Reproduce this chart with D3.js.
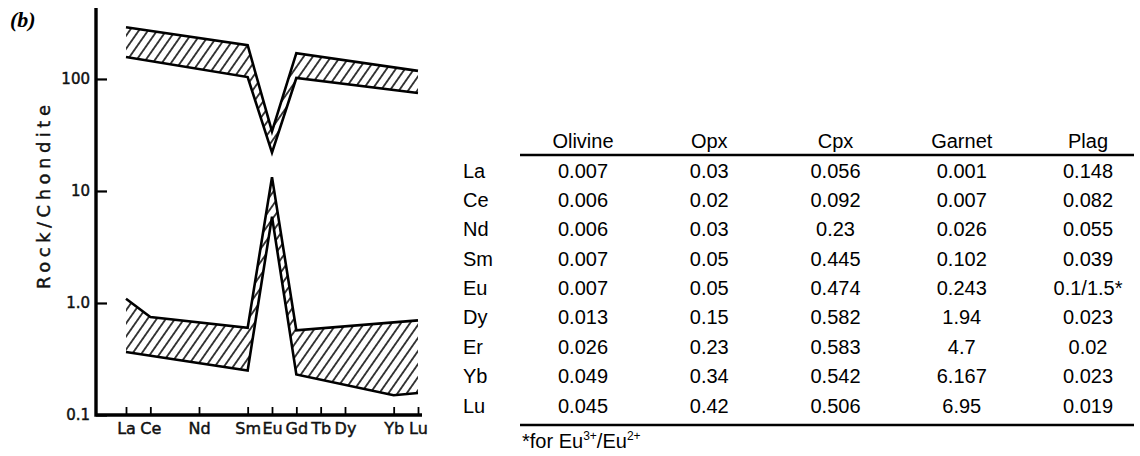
<!DOCTYPE html>
<html>
<head>
<meta charset="utf-8">
<script src="https://cdn.jsdelivr.net/npm/d3@7"></script>
<style>
  body { margin: 0; background: #fff; }
  svg { display: block; }
  .hand { font-family: "DejaVu Sans", sans-serif; fill: #111; stroke: #111; stroke-width: 0.45px; }
  .tbl { font-family: "Liberation Sans", Arial, sans-serif; font-size: 20px; fill: #000; }
</style>
</head>
<body>
<svg id="fig" width="1140" height="456"></svg>
<script>
// REE pattern (chondrite normalised) - element order along the axis
const ree = ["La", "Ce", "Nd", "Sm", "Eu", "Gd", "Tb", "Dy", "Yb", "Lu"];
// slot on the drawn axis (Ho-Tm squeezed into one gap on the original)
const reeSlot = [0, 1, 3, 5, 6, 7, 8, 9, 11, 12];

// upper field (with negative Eu anomaly)
const hiTopEl = ["La", "Sm", "Eu", "Gd", "Lu"];
const hiTop = [290, 200, 34, 170, 118];
const hiBotEl = ["La", "Sm", "Eu", "Gd", "Lu"];
const hiBot = [157, 104, 22, 102, 75];

// lower field (with positive Eu anomaly)
const loTopEl = ["La", "Ce", "Sm", "Eu", "Gd", "Lu"];
const loTop = [1.09, 0.75, 0.6, 13.3, 0.57, 0.7];
const loBotEl = ["La", "Sm", "Eu", "Gd", "Yb", "Lu"];
const loBot = [0.365, 0.25, 5.9, 0.23, 0.15, 0.157];

const yTicks = [0.1, 1, 10, 100];
const yTickText = ["0.1", "1.0", "10", "100"];

// partition coefficient table
const minerals = ["Olivine", "Opx", "Cpx", "Garnet", "Plag"];
const kdEl = ["La", "Ce", "Nd", "Sm", "Eu", "Dy", "Er", "Yb", "Lu"];
const kdOlivine = ["0.007", "0.006", "0.006", "0.007", "0.007", "0.013", "0.026", "0.049", "0.045"];
const kdOpx = ["0.03", "0.02", "0.03", "0.05", "0.05", "0.15", "0.23", "0.34", "0.42"];
const kdCpx = ["0.056", "0.092", "0.23", "0.445", "0.474", "0.582", "0.583", "0.542", "0.506"];
const kdGarnet = ["0.001", "0.007", "0.026", "0.102", "0.243", "1.94", "4.7", "6.167", "6.95"];
const kdPlag = ["0.148", "0.082", "0.055", "0.039", "0.1/1.5*", "0.023", "0.02", "0.023", "0.019"];

const svg = d3.select("#fig");

// hatch fill
svg.append("defs").append("pattern")
    .attr("id", "hatch")
    .attr("patternUnits", "userSpaceOnUse")
    .attr("width", 7.5).attr("height", 7.5)
    .attr("patternTransform", "rotate(35)")
  .append("line")
    .attr("x1", 3.75).attr("y1", 0).attr("x2", 3.75).attr("y2", 7.5)
    .attr("stroke", "#000").attr("stroke-width", 1.5);

// ---- chart ----
const axisX = 96, axisBottom = 415, axisTop = 8, axisRight = 422;

const x = d3.scaleLinear().domain([0, 12]).range([126, 418]);
const y = d3.scaleLog().domain([0.1, 430]).range([axisBottom, axisTop]);
const slotOf = el => reeSlot[ree.indexOf(el)];

const line = d3.line().x(d => x(slotOf(d[0]))).y(d => y(d[1]));

function field(topEl, top, botEl, bot) {
  const t = topEl.map((e, i) => [e, top[i]]);
  const b = botEl.map((e, i) => [e, bot[i]]);
  svg.append("path")
      .attr("d", line(t.concat(b.slice().reverse())) + "Z")
      .attr("fill", "url(#hatch)");
  [t, b].forEach(pts => {
    svg.append("path")
        .attr("d", line(pts))
        .attr("fill", "none")
        .attr("stroke", "#000")
        .attr("stroke-width", 2.6)
        .attr("stroke-linejoin", "miter");
  });
}
field(hiTopEl, hiTop, hiBotEl, hiBot);
field(loTopEl, loTop, loBotEl, loBot);

// axis frame
svg.append("path")
    .attr("d", `M${axisX},${axisTop}V${axisBottom}H${axisRight}`)
    .attr("fill", "none").attr("stroke", "#000").attr("stroke-width", 3.4);

const gy = svg.append("g")
    .attr("transform", `translate(${axisX},0)`)
    .call(d3.axisLeft(y).tickValues(yTicks)
      .tickFormat((d, i) => yTickText[i])
      .tickSizeInner(-11).tickSizeOuter(0).tickPadding(6));
gy.select(".domain").remove();
gy.selectAll(".tick line").attr("stroke-width", 2.2);
gy.selectAll(".tick text").attr("class", "hand").style("font-size", "15px");

const gx = svg.append("g")
    .attr("transform", `translate(0,${axisBottom})`)
    .call(d3.axisBottom(x).tickValues(reeSlot)
      .tickFormat((d, i) => ree[i])
      .tickSizeInner(-8).tickSizeOuter(0).tickPadding(8));
gx.select(".domain").remove();
gx.selectAll(".tick line").attr("stroke-width", 1.8);
gx.selectAll(".tick text").attr("class", "hand").style("font-size", "16px");

svg.append("text")
    .attr("class", "hand")
    .attr("transform", "translate(50,197) rotate(-90)")
    .attr("text-anchor", "middle")
    .attr("textLength", 184).attr("lengthAdjust", "spacing")
    .style("font-size", "18px")
    .text("Rock/Chondite");

svg.append("text")
    .attr("x", 10).attr("y", 27)
    .style("font-family", "'Liberation Serif', 'Times New Roman', serif")
    .style("font-style", "italic").style("font-weight", "bold")
    .style("font-size", "22px")
    .text("(b)");

// ---- table ----
const col = d3.scalePoint().domain(minerals).range([583, 1088]);
const row = d3.scalePoint().domain(kdEl).range([177.5, 412.5]);
const cols = [kdOlivine, kdOpx, kdCpx, kdGarnet, kdPlag];

const tbl = svg.append("g").attr("class", "tbl");
tbl.selectAll(".hd").data(minerals).join("text")
    .attr("class", "tbl")
    .attr("x", d => col(d)).attr("y", 148)
    .attr("text-anchor", "middle").text(d => d);
tbl.selectAll(".rl").data(kdEl).join("text")
    .attr("class", "tbl")
    .attr("x", 463).attr("y", d => row(d)).text(d => d);
minerals.forEach((m, j) => {
  tbl.selectAll(null).data(cols[j]).join("text")
      .attr("class", "tbl")
      .attr("x", col(m)).attr("y", (d, i) => row(kdEl[i]))
      .attr("text-anchor", "middle").text(d => d);
});
[155, 425].forEach(yy => {
  svg.append("line")
      .attr("x1", 520).attr("x2", 1134).attr("y1", yy).attr("y2", yy)
      .attr("stroke", "#000").attr("stroke-width", 2.4);
});
const note = svg.append("text").attr("class", "tbl").attr("x", 522).attr("y", 448);
note.append("tspan").text("*for Eu");
note.append("tspan").attr("dy", -8).style("font-size", "12px").text("3+");
note.append("tspan").attr("dy", 8).text("/Eu");
note.append("tspan").attr("dy", -8).style("font-size", "12px").text("2+");
</script>
</body>
</html>
